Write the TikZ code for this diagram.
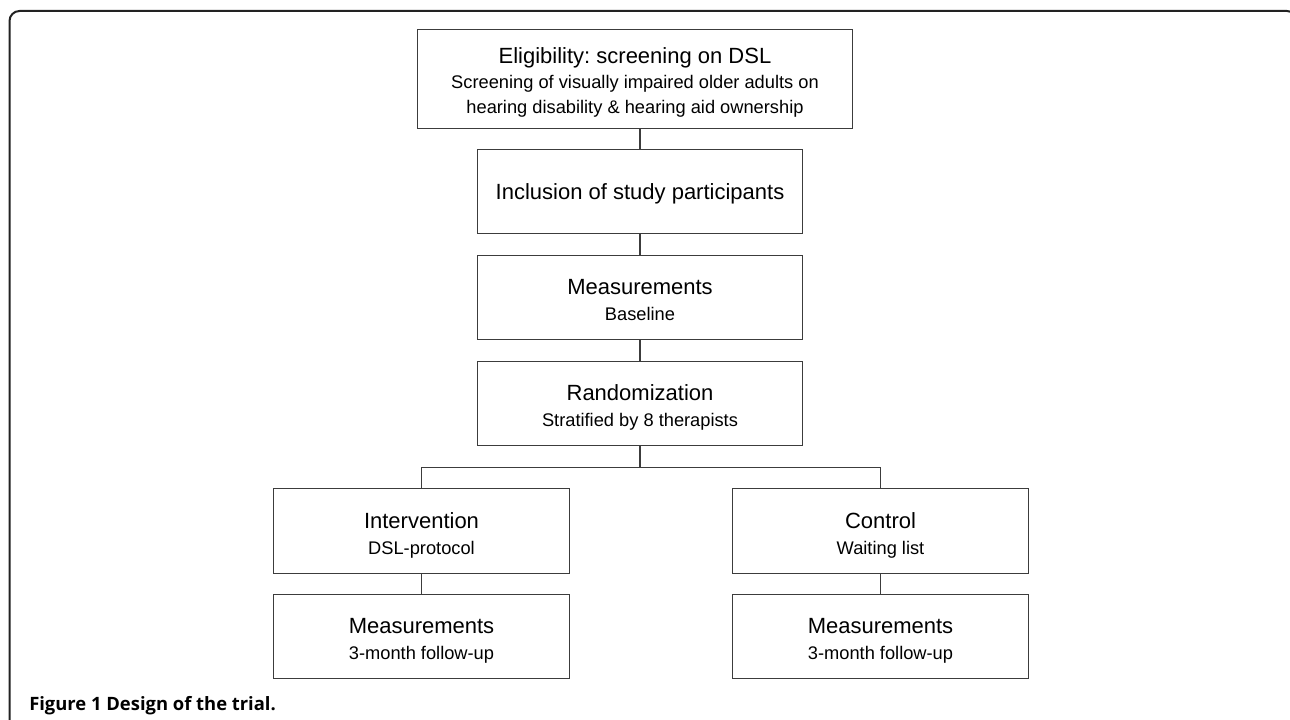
\documentclass[tikz,border=0pt]{standalone}
\usepackage[usenames,dvipsnames]{xcolor}
\usepackage{fontspec}
\setmainfont{Liberation Sans}
\newfontfamily\captionfont{Open Sans}
\usepackage{tikz}
\usetikzlibrary{positioning}
\frenchspacing

\definecolor{boxline}{RGB}{60,60,60}
\definecolor{frameline}{RGB}{34,34,34}

\newcommand{\boxtitle}[1]{{\fontsize{16.5pt}{19.5pt}\selectfont #1}}

\tikzset{
  blk/.style={draw=boxline, line width=0.9pt, inner sep=0pt, align=center, text=black,
    font=\fontsize{13.7pt}{19.5pt}\selectfont, text depth=0pt},
  link/.style={draw=boxline, line width=0.9pt},
}

\begin{document}
\begin{tikzpicture}[x=0.75pt,y=0.75pt,yscale=-1,xscale=1]
\useasboundingbox (0,0) rectangle (1290,720);
\clip (0,0) rectangle (1290,720);

%Shape: Frame
\draw [frameline, line width=1.5pt, rounded corners=7.5pt] (9.5,740) -- (9.5,11) -- (1297,11) -- (1297,740);

%Shape: Rectangle
\node [blk, minimum width=326.25pt, minimum height=74.25pt, text height=51.4pt, font=\fontsize{13.7pt}{18.6pt}\selectfont] (elig) at (635,79) {\boxtitle{Eligibility: screening on DSL}\\Screening of visually impaired older adults on\\hearing disability \& hearing aid ownership};
%Shape: Rectangle
\node [blk, minimum width=243.75pt, minimum height=63pt, text height=12.4pt] (incl) at (640,191.5) {\boxtitle{Inclusion of study participants}};
%Shape: Rectangle
\node [blk, minimum width=243.75pt, minimum height=63pt, text height=34.5pt] (base) at (640,297.5) {\boxtitle{Measurements}\\Baseline};
%Shape: Rectangle
\node [blk, minimum width=243.75pt, minimum height=63pt, text height=34.5pt] (rand) at (640,403.5) {\boxtitle{Randomization}\\Stratified by 8 therapists};
%Shape: Rectangle
\node [blk, minimum width=222pt, minimum height=63.75pt, text height=34.5pt] (interv) at (421.5,531) {\boxtitle{Intervention}\\DSL-protocol};
%Shape: Rectangle
\node [blk, minimum width=222pt, minimum height=63.75pt, text height=34.5pt] (ctrl) at (880.5,531) {\boxtitle{Control}\\Waiting list};
%Shape: Rectangle
\node [blk, minimum width=222pt, minimum height=63pt, text height=34.5pt] (meas1) at (421.5,636.5) {\boxtitle{Measurements}\\3-month follow-up};
%Shape: Rectangle
\node [blk, minimum width=222pt, minimum height=63pt, text height=34.5pt] (meas2) at (880.5,636.5) {\boxtitle{Measurements}\\3-month follow-up};

\coordinate (split) at (640,467.5);

%Straight Lines
\draw [link] (incl.north) -- (incl.north |- elig.south);
\draw [link] (incl) -- (base);
\draw [link] (base) -- (rand);
\draw [link] (rand.south) -- (split);
\draw [link] (interv.north) |- (split) -| (ctrl.north);
\draw [link] (interv) -- (meas1);
\draw [link] (ctrl) -- (meas2);

% Text Node
\node [anchor=base west, inner sep=0pt, text=black, font=\captionfont\bfseries\fontsize{13.8pt}{16pt}\selectfont] (cap) at (29,710) {Figure 1 Design of the trial.};

\end{tikzpicture}
\end{document}
